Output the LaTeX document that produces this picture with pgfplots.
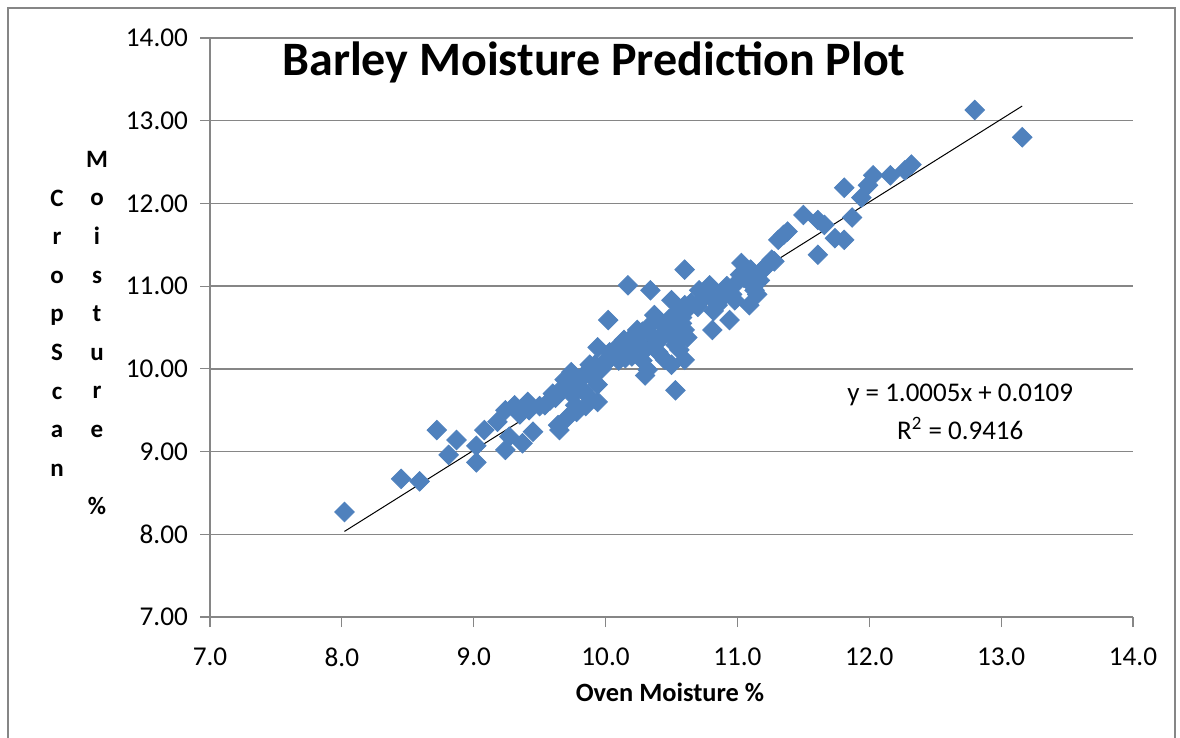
\documentclass[border=0pt]{standalone}
\usepackage{pgfplots}
\pgfplotsset{compat=1.18}
\usepackage{fontspec}
\setmainfont{Carlito}
\definecolor{mk}{HTML}{4F81BD}
\definecolor{gr}{HTML}{868686}
\begin{document}
\begin{tikzpicture}[x=0.5pt,y=-0.5pt]
\begin{axis}[
  at={(105pt,-308.5pt)}, anchor=south west,
  scale only axis, width=461.5pt, height=289.5pt,
  xmin=7, xmax=14, ymin=7, ymax=14,
  xtick={7,8,...,14}, ytick={7,8,...,14},
  axis x line*=bottom, axis y line*=left,
  axis line style={-, draw=gr, line width=0.75pt},
  ymajorgrids, grid style={draw=gr, line width=0.75pt},
  tick align=outside, major tick length=5pt,
  tick style={draw=gr, line width=0.6pt},
  ticklabel style={font=\fontsize{13.6}{16}\selectfont},
  /pgf/number format/assume math mode=true,
  xticklabel style={yshift=-7pt, /pgf/number format/.cd, fixed, fixed zerofill, precision=1},
  yticklabel style={xshift=-2.5pt, /pgf/number format/.cd, fixed, fixed zerofill, precision=2},
  clip=false,
]
\addplot[only marks, mark=square*, mark size=3.45pt,
  mark options={rotate=45, fill=mk, draw=mk}] coordinates {
(8.02,8.27) (8.45,8.67) (8.59,8.64) (8.72,9.26) (8.87,9.14) (8.81,8.96)
(9.02,8.87) (9.02,9.07) (9.08,9.26) (9.24,9.02) (9.27,9.18) (9.37,9.10)
(9.45,9.24) (9.18,9.36) (9.24,9.50) (9.31,9.56) (9.41,9.60) (9.54,9.56)
(9.62,9.65) (9.64,9.32) (9.71,9.41) (9.65,9.26) (9.77,9.56) (9.69,9.87)
(9.74,9.96) (9.83,9.74) (9.88,9.65) (9.94,9.60) (9.94,9.81) (9.88,10.05)
(9.94,10.26) (9.99,10.05) (10.03,10.20) (10.02,10.59) (10.11,10.29) (10.15,10.13)
(10.18,10.35) (10.17,11.01) (10.24,10.47) (10.30,10.23) (10.32,9.99) (10.34,10.95)
(10.37,10.65) (10.41,10.35) (10.45,10.11) (10.49,10.41) (10.53,10.29) (10.53,9.74)
(10.50,10.83) (10.60,10.77) (10.60,11.20) (10.60,10.47) (10.60,10.11) (10.56,10.23)
(10.71,10.95) (10.79,11.01) (10.81,10.47) (10.85,10.77) (10.90,10.95) (10.94,10.59)
(10.98,10.83) (11.02,11.14) (11.03,11.28) (11.09,10.77) (11.13,10.95) (11.17,11.07)
(11.21,11.22) (11.26,11.32) (11.31,11.56) (11.38,11.66) (11.50,11.86) (11.61,11.80)
(11.61,11.38) (11.66,11.74) (11.74,11.58) (11.81,11.56) (11.81,12.19) (11.87,11.83)
(11.94,12.07) (11.99,12.22) (12.03,12.34) (12.16,12.34) (12.27,12.40) (12.32,12.47)
(12.80,13.13) (13.16,12.80)
(9.35,9.45) (9.42,9.50) (9.50,9.55) (9.58,9.62) (9.60,9.70) (9.66,9.75)
(9.72,9.80) (9.75,9.68) (9.80,9.85) (9.85,9.95) (9.90,9.90) (9.92,10.05)
(9.97,10.00) (10.00,10.10) (10.05,10.15) (10.08,10.25) (10.10,10.10) (10.12,10.20)
(10.14,10.35) (10.20,10.25) (10.22,10.40) (10.26,10.30) (10.28,10.45) (10.32,10.50)
(10.35,10.40) (10.38,10.30) (10.42,10.55) (10.45,10.45) (10.48,10.60) (10.52,10.50)
(10.55,10.70) (10.58,10.62) (10.62,10.72) (10.65,10.80) (10.70,10.75) (10.74,10.85)
(10.78,10.90) (10.82,10.70) (10.88,10.85) (10.92,11.00) (10.96,10.90) (11.00,11.05)
(11.06,11.12) (11.10,11.20) (11.15,10.90) (11.18,11.18) (11.22,11.25) (11.28,11.30)
(11.35,11.62) (9.78,9.48) (9.85,9.55) (10.28,10.10) (10.40,10.20) (10.62,10.38)
(10.20,10.15) (10.30,9.92) (10.50,10.05) (10.58,10.55) (11.05,11.10) (11.12,11.00)
};
\addplot[black, line width=0.5pt] coordinates {(8.02,8.035) (13.16,13.178)};
\node[font=\fontsize{13.5}{16}\selectfont] at (axis cs:12.69,9.68) {y = 1.0005x + 0.0109};
\node[font=\fontsize{13.5}{16}\selectfont] at (axis cs:12.69,9.28) {R\textsuperscript{2} = 0.9416};
\end{axis}
\node[font=\bfseries\fontsize{24}{28}\selectfont] at (594,62) {Barley Moisture Prediction Plot};
\node[font=\bfseries\fontsize{13.2}{15}\selectfont] at (670,692) {Oven Moisture \%};
\node[font=\bfseries\fontsize{12.5}{19.3}\selectfont, align=center] at (57,333) {C\\r\\o\\p\\S\\c\\a\\n};
\node[font=\bfseries\fontsize{12.5}{19.3}\selectfont, align=center] at (97,333) {M\\o\\i\\s\\t\\u\\r\\e\\\mbox{}\\\%};
\draw[gr, line width=1pt] (8,8) rectangle (1175,800);
\pgfresetboundingbox
\path[use as bounding box] (0,0) rectangle (1180,738);
\end{tikzpicture}
\end{document}
